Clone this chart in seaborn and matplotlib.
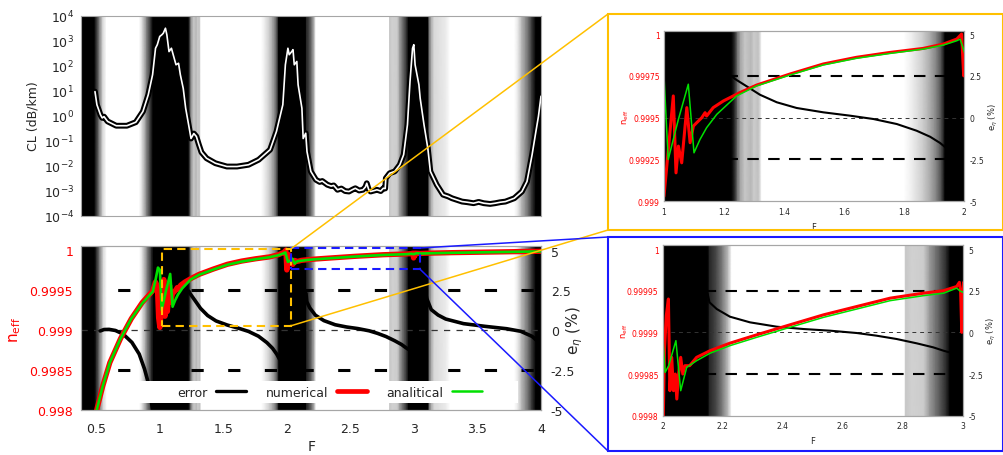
import numpy as np
import pandas as pd
import matplotlib
matplotlib.use("Agg")
import matplotlib.pyplot as plt
import seaborn as sns
from matplotlib.patches import Rectangle, ConnectionPatch
from matplotlib.lines import Line2D

sns.set_style("white")
plt.rcParams["font.family"] = ["DejaVu Sans"]

# grey level of the background map along F (0 = black, 1 = white)
bg_f = [0.38, 0.485, 0.50, 0.527, 0.555, 0.583, 0.84, 0.865, 0.9, 0.935, 0.95,
        1.225, 1.237, 1.245, 1.255, 1.27, 1.29, 1.30, 1.315, 1.326, 1.80, 1.83,
        1.864, 1.89, 1.909, 1.925, 1.937, 2.15, 2.156, 2.18, 2.2, 2.219, 2.23,
        2.805, 2.81, 2.83, 2.87, 2.89, 2.91, 2.924, 2.947, 2.958, 3.115, 3.12,
        3.14, 3.16, 3.2, 3.25, 3.285, 3.79, 3.82, 3.85, 3.88, 3.905, 3.93, 3.947,
        3.96, 4.01]
bg_gray = [0, 0, 0.15, 0.5, 0.85, 1, 1, 0.85, 0.5, 0.15, 0,
           0, 0.2, 0.45, 0.65, 0.78, 0.72, 0.8, 0.75, 1, 1, 0.92,
           0.8, 0.65, 0.5, 0.3, 0, 0, 0.15, 0.3, 0.5, 0.75, 1,
           1, 0.78, 0.82, 0.8, 0.6, 0.45, 0.35, 0.15, 0, 0, 0.45,
           0.7, 0.85, 0.88, 0.92, 1, 1, 0.9, 0.7, 0.55, 0.4, 0.2, 0.1,
           0, 0]

# confinement loss (dB/km)
cl_f = [0.493, 0.508, 0.536, 0.55, 0.564, 0.592, 0.66, 0.744, 0.814, 0.87, 0.912,
        0.946, 0.969, 0.983, 1.002, 1.019, 1.03, 1.047, 1.058, 1.075, 1.094, 1.108,
        1.13, 1.15, 1.164, 1.187, 1.206, 1.234, 1.248, 1.27, 1.29, 1.31, 1.33, 1.37,
        1.44, 1.53, 1.61, 1.70, 1.78, 1.87, 1.92, 1.97, 1.99, 2.01, 2.02, 2.04, 2.05,
        2.06, 2.08, 2.09, 2.12, 2.13, 2.15, 2.16, 2.19, 2.23, 2.26, 2.28, 2.32, 2.35,
        2.37, 2.40, 2.43, 2.46, 2.49, 2.52, 2.54, 2.57, 2.60, 2.62, 2.63, 2.645,
        2.66, 2.69, 2.71, 2.74, 2.76, 2.775, 2.78, 2.81, 2.85, 2.89, 2.92, 2.95,
        2.97, 2.99, 3.0, 3.01, 3.04, 3.05, 3.08, 3.11, 3.13, 3.18, 3.23, 3.27, 3.30,
        3.34, 3.38, 3.42, 3.47, 3.51, 3.55, 3.6, 3.64, 3.68, 3.72, 3.79, 3.85, 3.89,
        3.93, 3.96, 3.98, 4.0]
cl_db = [9, 2.7, 1.07, 0.8, 0.9, 0.58, 0.39, 0.39, 0.54, 1.45, 6.8,
         43, 490, 680, 1450, 1700, 1950, 3100, 1700, 360, 490, 270,
         107, 123, 43, 12, 1.95, 0.31, 0.12, 0.19, 0.145, 0.068, 0.034, 0.0195,
         0.0123, 0.0091, 0.0091, 0.0107, 0.017, 0.043, 0.23, 2.7, 107, 490, 270, 360, 430,
         107, 145, 17, 1.95, 0.12, 0.195, 0.036, 0.0058, 0.0027, 0.0022, 0.0024, 0.0017, 0.0015,
         0.0016, 0.00107, 0.0012, 0.00095, 0.00091, 0.0011, 0.00123, 0.001, 0.00107, 0.0014, 0.00195, 0.0011,
         0.00091, 0.001, 0.00107, 0.00095, 0.00123, 0.0012, 0.0031, 0.0049, 0.0058, 0.0107, 0.027, 0.43,
         23, 490, 680, 107, 17, 4.9, 0.43, 0.049, 0.0058, 0.0017, 0.00068, 0.00058, 0.00049,
         0.00042, 0.00036, 0.00034, 0.00031, 0.00035, 0.00031, 0.00029, 0.00031, 0.00034, 0.00036, 0.00049, 0.00091, 0.0023,
         0.027, 0.23, 0.93, 5.9]
cl_ticks = [1e-4, 1e-3, 1e-2, 1e-1, 1e0, 1e1, 1e2, 1e3, 1e4]

# effective index, numerical
f_num = [0.5, 0.551, 0.606, 0.69, 0.775, 0.86, 0.944, 0.965, 0.98, 0.99, 1.0,
         1.031, 1.04, 1.048, 1.059, 1.076, 1.087, 1.098, 1.109, 1.126, 1.137, 1.142,
         1.164, 1.198, 1.253, 1.309, 1.42, 1.531, 1.642, 1.753, 1.864, 1.931, 1.976,
         1.992, 1.999, 2.002, 2.006, 2.012, 2.019, 2.024, 2.03, 2.036, 2.042, 2.047,
         2.053, 2.06, 2.067, 2.074, 2.09, 2.113, 2.158, 2.224, 2.313, 2.424, 2.536,
         2.647, 2.758, 2.869, 2.936, 2.98, 2.989, 2.993, 2.997, 3.003, 3.008, 3.015,
         3.05, 3.1, 3.3, 3.5, 3.7, 3.9, 4.0]
n_num = [0.99798, 0.9983, 0.99859, 0.99889, 0.99914, 0.99934, 0.99949, 0.9996, 0.99955, 0.99915, 0.99903,
         0.99963, 0.99917, 0.99933, 0.99923, 0.99956, 0.99935, 0.99945, 0.99947, 0.9995, 0.99953, 0.99951,
         0.99956, 0.9996, 0.99965, 0.999695, 0.999761, 0.999821, 0.999861, 0.99989, 0.999914, 0.99994, 0.99997,
         1.0, 0.99975, 0.9998, 0.99988, 0.99992, 0.99994, 0.99983, 0.99987, 0.99983, 0.99985, 0.99982,
         0.99985, 0.99987, 0.99985, 0.99986, 0.99986, 0.99987, 0.999878, 0.999887, 0.999897, 0.999909, 0.999921,
         0.999931, 0.999941, 0.999947, 0.99995, 0.999955, 0.99996, 0.99995, 0.9999, 0.99996, 0.99993, 0.99996,
         0.999957, 0.99996, 0.999967, 0.999972, 0.999977, 0.999982, 0.999984]

# effective index, analitical
f_ana = [0.5, 0.551, 0.606, 0.69, 0.775, 0.86, 0.944, 0.965, 0.985, 1.0, 1.014,
         1.048, 1.081, 1.1, 1.12, 1.142, 1.176, 1.242, 1.309, 1.42, 1.531, 1.642,
         1.753, 1.864, 1.931, 1.976, 1.987, 1.998, 2.008, 2.02, 2.044, 2.06, 2.08,
         2.113, 2.158, 2.224, 2.313, 2.424, 2.536, 2.647, 2.758, 2.869, 2.936, 2.98,
         2.99, 3.0, 3.02, 3.05, 3.1, 3.3, 3.5, 3.7, 3.9, 4.0]
n_ana = [0.99798, 0.9983, 0.99859, 0.99889, 0.99914, 0.99933, 0.99948, 0.99962, 0.99978, 0.99975, 0.99925,
         0.99949, 0.9997, 0.99929, 0.99937, 0.99944, 0.99952, 0.99963, 0.99969, 0.999755, 0.999815, 0.999855,
         0.999884, 0.99991, 0.999934, 0.99996, 0.99997, 0.99991, 0.999852, 0.99986, 0.99989, 0.99983, 0.999858,
         0.999866, 0.999875, 0.999884, 0.999894, 0.999906, 0.999918, 0.999928, 0.999938, 0.999944, 0.999947, 0.999953,
         0.99995, 0.999948, 0.99996, 0.999955, 0.999958, 0.999965, 0.99997, 0.999975, 0.99998, 0.999982]

# relative error (%) per band
err1_f = [0.53, 0.56, 0.6, 0.65, 0.71, 0.78, 0.837, 0.879, 0.907, 0.93, 0.95]
err1_e = [-0.05, 0.04, 0.05, -0.02, -0.24, -0.77, -1.5, -2.44, -3.26, -4.3, -5.5]
err2_f = [1.228, 1.237, 1.276, 1.32, 1.376, 1.442, 1.531, 1.62, 1.698, 1.776, 1.842, 1.887, 1.92, 1.94]
err2_e = [2.45, 2.31, 1.87, 1.37, 0.92, 0.58, 0.32, 0.12, -0.08, -0.38, -0.78, -1.14, -1.51, -1.8]
err3_f = [2.15, 2.156, 2.18, 2.224, 2.291, 2.38, 2.469, 2.558, 2.647, 2.713, 2.78, 2.847, 2.902, 2.936, 2.96]
err3_e = [2.3, 1.8, 1.4, 0.94, 0.6, 0.34, 0.2, 0.1, -0.04, -0.2, -0.4, -0.66, -0.9, -1.1, -1.22]
err4_f = [3.09, 3.1, 3.136, 3.19, 3.25, 3.39, 3.56, 3.73, 3.84, 3.93, 3.96]
err4_e = [2.45, 2.0, 1.29, 0.95, 0.7, 0.41, 0.24, 0.09, -0.07, -0.39, -0.6]

err_limits = [2.5, -2.5]

# tick labels
main_f_ticks = [0.5, 1, 1.5, 2, 2.5, 3, 3.5, 4]
main_f_labels = ["0.5", "1", "1.5", "2", "2.5", "3", "3.5", "4"]
main_n_ticks = [0.998, 0.9985, 0.999, 0.9995, 1.0]
main_n_labels = ["0.998", "0.9985", "0.999", "0.9995", "1"]
err_ticks = [-5, -2.5, 0, 2.5, 5]
err_labels = ["-5", "-2.5", "0", "2.5", "5"]
in1_f_ticks = [1, 1.2, 1.4, 1.6, 1.8, 2]
in1_f_labels = ["1", "1.2", "1.4", "1.6", "1.8", "2"]
in1_n_ticks = [0.999, 0.99925, 0.9995, 0.99975, 1.0]
in1_n_labels = ["0.999", "0.99925", "0.9995", "0.99975", "1"]
in2_f_ticks = [2, 2.2, 2.4, 2.6, 2.8, 3]
in2_f_labels = ["2", "2.2", "2.4", "2.6", "2.8", "3"]
in2_n_ticks = [0.9998, 0.99985, 0.9999, 0.99995, 1.0]
in2_n_labels = ["0.9998", "0.99985", "0.9999", "0.99995", "1"]

# zoomed windows marked on the main plot (F range, n range)
zoom1_f = [1.02, 2.03]
zoom1_n = [0.99905, 1.0000125]
zoom2_f = [2.03, 3.046]
zoom2_n = [0.999762, 1.000025]

err_df = pd.concat([
    pd.DataFrame({"F": err1_f, "e": err1_e, "band": 1}),
    pd.DataFrame({"F": err2_f, "e": err2_e, "band": 2}),
    pd.DataFrame({"F": err3_f, "e": err3_e, "band": 3}),
    pd.DataFrame({"F": err4_f, "e": err4_e, "band": 4}),
])

YELLOW = "#FFC000"
BLUE = "#1a1aff"
RED = "#ff0000"
GREEN = "#00e000"
SPINE = "#a6a6a6"
W, H = 1004, 456


def px_box(x0, y0, x1, y1):
    return [x0 / W, 1 - y1 / H, (x1 - x0) / W, (y1 - y0) / H]


def background(ax, y_edges):
    X, Y = np.meshgrid(bg_f, y_edges)
    C = np.tile(bg_gray, (2, 1))
    ax.pcolormesh(X, Y, C, shading="gouraud", cmap="gray", vmin=0, vmax=1, zorder=0)


def style_spines(ax):
    for s in ax.spines.values():
        s.set_color(SPINE)
        s.set_linewidth(0.8)


def panel(pos, xlim, nlim, elim, f_ticks, f_labels, n_ticks, n_labels, fs,
          lw_red, lw_green, lw_err, dash_big, dash_small):
    ax_e = fig.add_axes(pos)
    background(ax_e, [-6, 6])
    for y in err_limits:
        ax_e.axhline(y, color="black", lw=dash_big[0], ls=(0, dash_big[1]), zorder=1)
    ax_e.axhline(0, color="#333333", lw=dash_small[0], ls=(0, dash_small[1]), zorder=1)
    sns.lineplot(data=err_df, x="F", y="e", units="band", estimator=None, sort=False,
                 color="black", lw=lw_err, ax=ax_e, legend=False, zorder=2)

    ax_n = ax_e.twinx()
    sns.lineplot(x=f_num, y=n_num, estimator=None, sort=False, color=RED, lw=lw_red, ax=ax_n)
    sns.lineplot(x=f_ana, y=n_ana, estimator=None, sort=False, color=GREEN, lw=lw_green, ax=ax_n)

    # error axis on the right, index axis on the left
    ax_e.set_xlim(xlim)
    ax_e.set_ylim(elim)
    ax_e.yaxis.tick_right()
    ax_e.yaxis.set_label_position("right")
    ax_e.set_yticks(err_ticks)
    ax_e.set_yticklabels(err_labels, fontsize=fs)
    ax_e.set_xticks(f_ticks)
    ax_e.set_xticklabels(f_labels, fontsize=fs)
    ax_e.set_xlabel("")
    ax_e.set_ylabel("")

    ax_n.set_ylim(nlim)
    ax_n.yaxis.tick_left()
    ax_n.yaxis.set_label_position("left")
    ax_n.set_yticks(n_ticks)
    ax_n.set_yticklabels(n_labels, fontsize=fs, color=RED)
    for a in (ax_e, ax_n):
        style_spines(a)
        a.tick_params(length=0)
    return ax_e, ax_n


fig = plt.figure(figsize=(W / 100, H / 100), dpi=100)

# --- top: confinement loss ---
ax_cl = fig.add_axes(px_box(81, 16.5, 541, 216.5))
ax_cl.set_yscale("log")
background(ax_cl, [1e-5, 1e5])
sns.lineplot(x=cl_f, y=cl_db, estimator=None, sort=False, color="black", lw=4.2, ax=ax_cl)
sns.lineplot(x=cl_f, y=cl_db, estimator=None, sort=False, color="white", lw=1.2, ax=ax_cl)
ax_cl.set_xlim(0.383, 4.0)
ax_cl.set_ylim(1e-4, 1e4)
ax_cl.set_yticks(cl_ticks)
ax_cl.minorticks_off()
ax_cl.set_xticks(main_f_ticks)
ax_cl.tick_params(labelbottom=False, length=0, labelsize=9, pad=5)
ax_cl.set_ylabel("CL (dB/km)", fontsize=9)
ax_cl.yaxis.set_label_coords(-0.091, 0.5)
style_spines(ax_cl)

# --- bottom: effective index and error ---
ax_e, ax_n = panel(px_box(81.5, 246.7, 541, 410.7), (0.383, 4.0), (0.998, 1.000054), (-5, 5.31),
                   main_f_ticks, main_f_labels, main_n_ticks, main_n_labels, 9,
                   3.8, 1.9, 2.6, (2.2, (4, 8)), (0.9, (5, 5)))
ax_e.tick_params(axis="x", pad=9)
ax_e.tick_params(axis="y", pad=7)
ax_n.tick_params(axis="y", pad=6)
ax_e.set_xlabel("F", fontsize=10)
ax_e.set_ylabel("e$_\\eta$ (%)", fontsize=11)
ax_e.yaxis.set_label_coords(1.05, 0.49)
ax_e.xaxis.set_label_coords(0.5, -0.18)
ax_n.set_ylabel("n$_{\\mathregular{eff}}$", fontsize=11, color=RED)
ax_n.yaxis.set_label_coords(-0.127, 0.49)

ax_n.add_patch(Rectangle((0.066, 0.038), 0.884, 0.14, transform=ax_n.transAxes,
                         facecolor="white", edgecolor="none", zorder=5))
handles = [Line2D([], [], color="black", lw=2.4),
           Line2D([], [], color=RED, lw=3.4),
           Line2D([], [], color=GREEN, lw=1.8)]
leg = ax_n.legend(handles, ["error", "numerical", "analitical"], ncol=3, markerfirst=False,
                  loc="center", bbox_to_anchor=(0.54, 0.106), frameon=False, fontsize=9,
                  handlelength=2.4, handletextpad=0.65, columnspacing=1.6)
leg.set_zorder(6)

ax_n.add_patch(Rectangle((zoom1_f[0], zoom1_n[0]), zoom1_f[1] - zoom1_f[0], zoom1_n[1] - zoom1_n[0],
                         fill=False, edgecolor=YELLOW, lw=1.5, ls=(0, (4, 2.5)), zorder=7))
ax_n.add_patch(Rectangle((zoom2_f[0], zoom2_n[0]), zoom2_f[1] - zoom2_f[0], zoom2_n[1] - zoom2_n[0],
                         fill=False, edgecolor=BLUE, lw=1.5, ls=(0, (4, 2.5)), zorder=7))

# --- insets ---
in1_e, in1_n = panel(px_box(664, 31.7, 964, 202.3), (1, 2), (0.999, 1.00002), (-5, 5.2),
                     in1_f_ticks, in1_f_labels, in1_n_ticks, in1_n_labels, 5.5,
                     2.2, 1.1, 1.5, (1.5, (5.5, 4.5)), (0.7, (4, 4)))
in2_e, in2_n = panel(px_box(662.7, 246, 962.7, 416.7), (2, 3), (0.9998, 1.0000048), (-5, 5.24),
                     in2_f_ticks, in2_f_labels, in2_n_ticks, in2_n_labels, 5.5,
                     2.2, 1.1, 1.5, (1.5, (5.5, 4.5)), (0.7, (4, 4)))
for ie, inn in ((in1_e, in1_n), (in2_e, in2_n)):
    ie.tick_params(axis="x", pad=4)
    ie.tick_params(axis="y", pad=4)
    inn.tick_params(axis="y", pad=3)
    ie.set_xlabel("F", fontsize=6)
    ie.set_ylabel("e$_\\eta$ (%)", fontsize=6)
    ie.yaxis.set_label_coords(1.075, 0.5)
    ie.xaxis.set_label_coords(0.5, -0.12)
    inn.set_ylabel("n$_{\\mathregular{eff}}$", fontsize=6, color=RED)
    inn.yaxis.set_label_coords(-0.11, 0.5)

# frames around the insets
box1 = px_box(608, 15, 1003, 231)
box2 = px_box(608, 238, 1003, 452)
for b, c in ((box1, YELLOW), (box2, BLUE)):
    fig.add_artist(Rectangle((b[0], b[1]), b[2], b[3], transform=fig.transFigure,
                             fill=False, edgecolor=c, lw=1.5))

# connector lines from the marked windows to the inset frames
links = [((zoom1_f[1], zoom1_n[1]), (box1[0], box1[1] + box1[3]), YELLOW),
         ((zoom1_f[1], zoom1_n[0]), (box1[0], box1[1]), YELLOW),
         ((zoom2_f[1], zoom2_n[1]), (box2[0], box2[1] + box2[3]), BLUE),
         ((zoom2_f[1], zoom2_n[0]), (box2[0], box2[1]), BLUE)]
for a, b, c in links:
    fig.add_artist(ConnectionPatch(xyA=a, coordsA=ax_n.transData, xyB=b, coordsB=fig.transFigure,
                                   color=c, lw=1.1))

fig.savefig("out.png", dpi=100)
